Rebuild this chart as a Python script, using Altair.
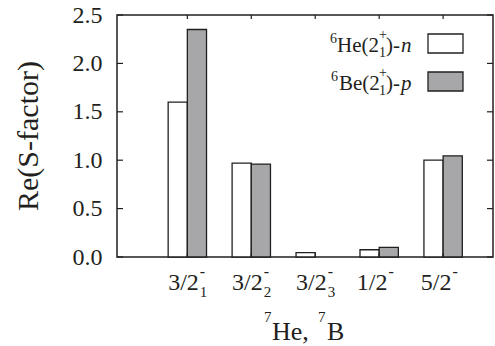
import altair as alt
import pandas as pd

# ---- data ----
categories = ["3/2-_1", "3/2-_2", "3/2-_3", "1/2-", "5/2-"]
label_base = ["3/2", "3/2", "3/2", "1/2", "5/2"]
label_sub = ["1", "2", "3", "", ""]
label_sup = ["-", "-", "-", "-", "-"]
he_n = [1.60, 0.97, 0.045, 0.075, 1.00]
be_p = [2.35, 0.96, 0.0, 0.10, 1.045]
series = ["6He(2+1)-n", "6Be(2+1)-p"]
y_ticks = [0.0, 0.5, 1.0, 1.5, 2.0, 2.5]

W, H = 376, 242
INK = "#231f20"
GRAY = "#a7a7a9"
FONT = "Liberation Serif"

rows = []
for i, c in enumerate(categories):
    rows.append({"cat": c, "idx": i, "series": series[0], "s": 0, "value": he_n[i]})
    rows.append({"cat": c, "idx": i, "series": series[1], "s": 1, "value": be_p[i]})
bars_df = pd.DataFrame(rows)

lab_df = pd.DataFrame({"idx": list(range(len(categories))), "base": label_base,
                       "sub": label_sub, "sup": label_sup})
yt_df = pd.DataFrame({"v": y_ticks})

xs = alt.Scale(domain=[-1.1, 4.78], nice=False, zero=False)
ys = alt.Scale(domain=[0, 2.5], nice=False, zero=True)

bars = alt.Chart(bars_df).transform_filter("datum.value > 0").transform_calculate(
    x0="datum.idx + (datum.s == 0 ? -0.3 : 0)",
    x1="datum.idx + (datum.s == 0 ? 0 : 0.3)",
).mark_bar(stroke=INK, strokeWidth=1.3).encode(
    x=alt.X("x0:Q", scale=xs, axis=None),
    x2="x1:Q",
    y=alt.Y("value:Q", scale=ys,
            axis=alt.Axis(values=y_ticks, format=".1f", ticks=False, domain=False,
                          grid=False, labelFont=FONT, labelFontSize=24, labelColor=INK,
                          labelPadding=15, title=None)),
    y2=alt.datum(0),
    color=alt.Color("series:N", scale=alt.Scale(domain=series, range=["#ffffff", GRAY]),
                    legend=None),
)

left_ticks = alt.Chart(yt_df).mark_rule(color=INK, strokeWidth=1.2).encode(
    y=alt.Y("v:Q", scale=ys), x=alt.value(0), x2=alt.value(6))
right_ticks = alt.Chart(yt_df).mark_rule(color=INK, strokeWidth=1.2).encode(
    y=alt.Y("v:Q", scale=ys), x=alt.value(W - 6), x2=alt.value(W))
top_ticks = alt.Chart(lab_df).mark_rule(color=INK, strokeWidth=1.2).encode(
    x=alt.X("idx:Q", scale=xs), y=alt.value(0), y2=alt.value(4))
bot_ticks = alt.Chart(lab_df).mark_rule(color=INK, strokeWidth=1.2).encode(
    x=alt.X("idx:Q", scale=xs), y=alt.value(H - 4), y2=alt.value(H))

lab_base = alt.Chart(lab_df).transform_calculate(
    lx="datum.idx + (datum.sub != '' ? 0.18 : 0.13)"
)
xl_base = lab_base.mark_text(font=FONT, fontSize=24, color=INK, align="right",
                             baseline="alphabetic").encode(
    x=alt.X("lx:Q", scale=xs), y=alt.value(275), text="base:N")
xl_sup = lab_base.mark_text(font=FONT, fontSize=16, color=INK, align="left",
                            baseline="alphabetic", dx=1).encode(
    x=alt.X("lx:Q", scale=xs), y=alt.value(262), text="sup:N")
xl_sub = lab_base.mark_text(font=FONT, fontSize=15, color=INK, align="left",
                            baseline="alphabetic", dx=1).encode(
    x=alt.X("lx:Q", scale=xs), y=alt.value(282), text="sub:N")

dummy = pd.DataFrame({"a": [0]})


def txt(t, x, y, size, style="normal", align="left", angle=0, baseline="alphabetic"):
    kw = dict(text=t, font=FONT, fontSize=size, color=INK, align=align,
              baseline=baseline, fontStyle=style)
    if angle:
        kw["angle"] = angle
    return alt.Chart(dummy).mark_text(**kw).encode(x=alt.value(x), y=alt.value(y))


texts = [
    # y title
    txt("Re(S-factor)", -88, 121, 30, align="center", angle=270, baseline="middle"),
    # x title
    txt("7", 147, 307, 15), txt("He,", 155, 325, 26),
    txt("7", 201, 307, 15), txt("B", 210, 325, 26),
    # legend 1
    txt("6", 213, 28, 14), txt("He(2", 220, 37, 21), txt("+", 262, 24, 14),
    txt("1", 262, 42, 14), txt(")-", 269, 37, 21), txt("n", 284, 37, 21, style="italic"),
    # legend 2
    txt("6", 214, 66, 14), txt("Be(2", 222, 75, 21), txt("+", 262, 62, 14),
    txt("1", 262, 80, 14), txt(")-", 269, 75, 21), txt("p", 284, 75, 21, style="italic"),
]

leg_boxes = [
    alt.Chart(dummy).mark_rect(fill="#ffffff", stroke=INK, strokeWidth=1.3).encode(
        x=alt.value(311), x2=alt.value(346), y=alt.value(19), y2=alt.value(38)),
    alt.Chart(dummy).mark_rect(fill=GRAY, stroke=INK, strokeWidth=1.3).encode(
        x=alt.value(311), x2=alt.value(346), y=alt.value(57), y2=alt.value(76)),
]

chart = alt.layer(
    bars, left_ticks, right_ticks, top_ticks, bot_ticks,
    xl_base, xl_sup, xl_sub, *texts, *leg_boxes
).properties(
    width=W, height=H,
    padding={"left": 117, "top": 15, "right": 2, "bottom": 89},
    autosize=alt.AutoSizeParams(type="none"),
).configure(
    background="#ffffff",
    view=alt.ViewConfig(stroke=INK, strokeWidth=1.5),
)

chart.save("out.html", embed_options={"renderer": "svg", "actions": False})
